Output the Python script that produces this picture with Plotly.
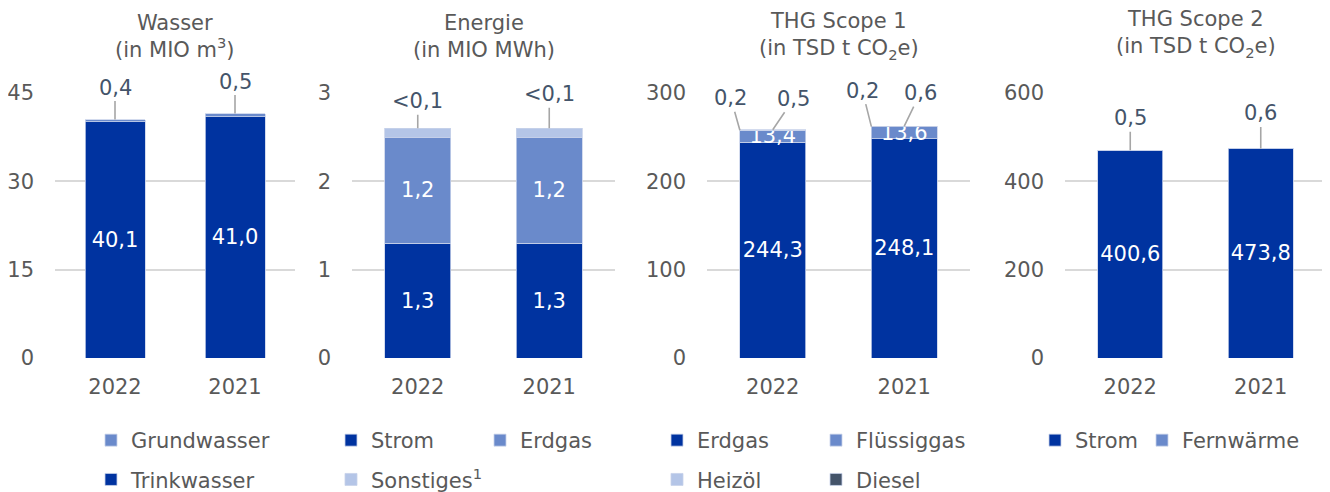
import plotly.graph_objects as go

# The page puts the figure 8px in from the top-left corner, so the figure is
# sized and laid out in target-screen pixels minus that offset.
OFF = 8
W, H = 1330 - OFF, 492 - OFF

# ---- data ---------------------------------------------------------------
years = ["2022", "2021"]

wasser_trink = [40.1, 41.0]
wasser_grund = [0.4, 0.5]

energie_strom = [1.3, 1.3]
energie_erdgas = [1.2, 1.2]
energie_sonst = [0.1, 0.1]
energie_sonst_labels = ["<0,1", "<0,1"]

s1_erdgas = [244.3, 248.1]
s1_fluessig = [13.4, 13.6]
s1_heizoel = [0.2, 0.2]
s1_diesel = [0.5, 0.6]

s2_strom = [470.0, 473.8]          # bar heights as drawn
s2_strom_labels = ["400,6", "473,8"]
s2_fern = [0.5, 0.6]

# ---- style --------------------------------------------------------------
DARK = "#0033a0"
MID = "#6a8acb"
LIGHT = "#b4c5e7"
SLATE = "#44546a"
TEXT = "#595959"
LABEL = "#44546a"
GRID = "#d9d9d9"
LEADER = "#a6a6a6"
OUTLINE = "#c8d2ea"
FONT = "DejaVu Sans"

# plot areas in screen pixels (left, right), and the shared top/bottom rows
DOMAINS = [(55, 295), (352, 615), (707, 970), (1065, 1326)]
TOP, BOTTOM = 93, 358


def px(x):
    """screen column -> paper x."""
    return (x - OFF) / W


def py(y):
    """screen row -> paper y (relative to the plot area)."""
    return (BOTTOM - y) / (BOTTOM - TOP)


fig = go.Figure()


def bar(n, y, name, color, legend, rank, labels="value"):
    if labels == "value":
        kw = dict(texttemplate="%{y:.1f}", textposition="inside")
    elif labels is not None:
        kw = dict(text=labels, textposition="inside")
    else:
        kw = dict(textposition="none")
    fig.add_trace(
        go.Bar(
            x=years, y=y, name=name,
            xaxis=f"x{n}" if n > 1 else "x", yaxis=f"y{n}" if n > 1 else "y",
            marker=dict(color=color, line=dict(color=OUTLINE, width=0.8)),
            insidetextanchor="middle", textangle=0,
            textfont=dict(color="white", size=21, family=FONT),
            legend=legend, legendrank=rank,
            legendgroup=f"{legend}-{name}",
            hoverinfo="skip",
            **kw,
        )
    )


# Wasser
bar(1, wasser_trink, "Trinkwasser", DARK, "legend", 2)
bar(1, wasser_grund, "Grundwasser", MID, "legend", 1, labels=None)
# Energie
bar(2, energie_strom, "Strom", DARK, "legend2", 1)
bar(2, energie_erdgas, "Erdgas", MID, "legend3", 1)
bar(2, energie_sonst, "Sonstiges<sup>1</sup>", LIGHT, "legend2", 2, labels=None)
# THG Scope 1
bar(3, s1_erdgas, "Erdgas", DARK, "legend4", 1)
bar(3, s1_fluessig, "Flüssiggas", MID, "legend5", 1)
bar(3, s1_heizoel, "Heizöl", LIGHT, "legend4", 2, labels=None)
bar(3, s1_diesel, "Diesel", SLATE, "legend5", 2, labels=None)
# THG Scope 2
bar(4, s2_strom, "Strom", DARK, "legend6", 1, labels=s2_strom_labels)
bar(4, s2_fern, "Fernwärme", MID, "legend7", 1, labels=None)


# ---- leader-line labels for the small segments ----------------------------
def fmt(v):
    return f"{v:.1f}".replace(".", ",")


def leader(n, xi, y, text, ax, ay):
    fig.add_annotation(
        xref=f"x{n}" if n > 1 else "x", yref=f"y{n}" if n > 1 else "y",
        x=xi, y=y, text=text, ax=ax, ay=ay,
        showarrow=True, arrowhead=0, arrowwidth=1.6, arrowcolor=LEADER,
        font=dict(color=LABEL, size=21, family=FONT),
    )


tot_w = [a + b for a, b in zip(wasser_trink, wasser_grund)]
for i, ay in enumerate([-32, -32]):
    leader(1, i, tot_w[i], fmt(wasser_grund[i]), 0, ay)

tot_e = [a + b + c for a, b, c in zip(energie_strom, energie_erdgas, energie_sonst)]
for i, ay in enumerate([-27, -34]):
    leader(2, i, tot_e[i], energie_sonst_labels[i], 0, ay)

for i in range(2):
    base = s1_erdgas[i] + s1_fluessig[i]
    leader(3, i - 0.25, base + s1_heizoel[i], fmt(s1_heizoel[i]), -9, [-32, -36][i])
    leader(3, i, base + s1_heizoel[i] + s1_diesel[i], fmt(s1_diesel[i]), [21, 16][i], [-31, -33][i])

tot_s2 = [a + b for a, b in zip(s2_strom, s2_fern)]
for i, ay in enumerate([-32, -35]):
    leader(4, i, tot_s2[i], fmt(s2_fern[i]), 0, ay)

# ---- panel titles --------------------------------------------------------
titles = [
    "Wasser<br>(in MIO m<sup>3</sup>)",
    "Energie<br>(in MIO MWh)",
    "THG Scope 1<br>(in TSD t CO<sub>2</sub>e)",
    "THG Scope 2<br>(in TSD t CO<sub>2</sub>e)",
]
title_y = [36, 36, 36, 34]
for (l, r), t, ty in zip(DOMAINS, titles, title_y):
    fig.add_annotation(
        xref="paper", yref="paper", x=px((l + r) / 2), y=py(ty),
        text=t, showarrow=False, xanchor="center", yanchor="middle",
        font=dict(color=TEXT, size=21, family=FONT),
    )

# ---- axes ----------------------------------------------------------------
ranges = [(0, 45, 15), (0, 3, 1), (0, 300, 100), (0, 600, 200)]
layout_axes = {}
for k, ((l, r), (lo, hi, dt)) in enumerate(zip(DOMAINS, ranges), start=1):
    sfx = "" if k == 1 else str(k)
    layout_axes[f"xaxis{sfx}"] = dict(
        domain=[px(l), px(r)], anchor=f"y{sfx}", type="category",
        showgrid=False, showline=False, ticks="", zeroline=False,
        tickfont=dict(color=TEXT, size=21, family=FONT), ticklabelstandoff=14,
        automargin=False, fixedrange=True,
    )
    layout_axes[f"yaxis{sfx}"] = dict(
        domain=[0, 1], anchor=f"x{sfx}", range=[lo, hi], dtick=dt, tick0=0,
        showgrid=True, gridcolor=GRID, gridwidth=2, zeroline=False,
        showline=False, ticks="", tickfont=dict(color=TEXT, size=21, family=FONT),
        ticklabelstandoff=20, automargin=False, fixedrange=True,
    )


def legend_at(text_x, top_px):
    return dict(
        x=px(text_x - 38), y=py(top_px), xanchor="left", yanchor="top",
        orientation="v", bgcolor="rgba(0,0,0,0)", tracegroupgap=9,
        font=dict(color=TEXT, size=21, family=FONT), traceorder="grouped",
    )


LEG_TOP = 420
fig.update_layout(
    width=W, height=H,
    margin=dict(l=0, r=0, t=TOP - OFF, b=H - (BOTTOM - OFF), autoexpand=False),
    paper_bgcolor="white", plot_bgcolor="white",
    font=dict(family=FONT, color=TEXT),
    barmode="stack", bargap=0.5,
    separators=",.",
    uniformtext=dict(minsize=21, mode="show"),
    legend=legend_at(129, LEG_TOP),
    legend2=legend_at(369, LEG_TOP),
    legend3=legend_at(518, LEG_TOP),
    legend4=legend_at(695, LEG_TOP),
    legend5=legend_at(854, LEG_TOP),
    legend6=legend_at(1073, LEG_TOP),
    legend7=legend_at(1180, LEG_TOP),
    **layout_axes,
)

fig.write_html("out.html")
